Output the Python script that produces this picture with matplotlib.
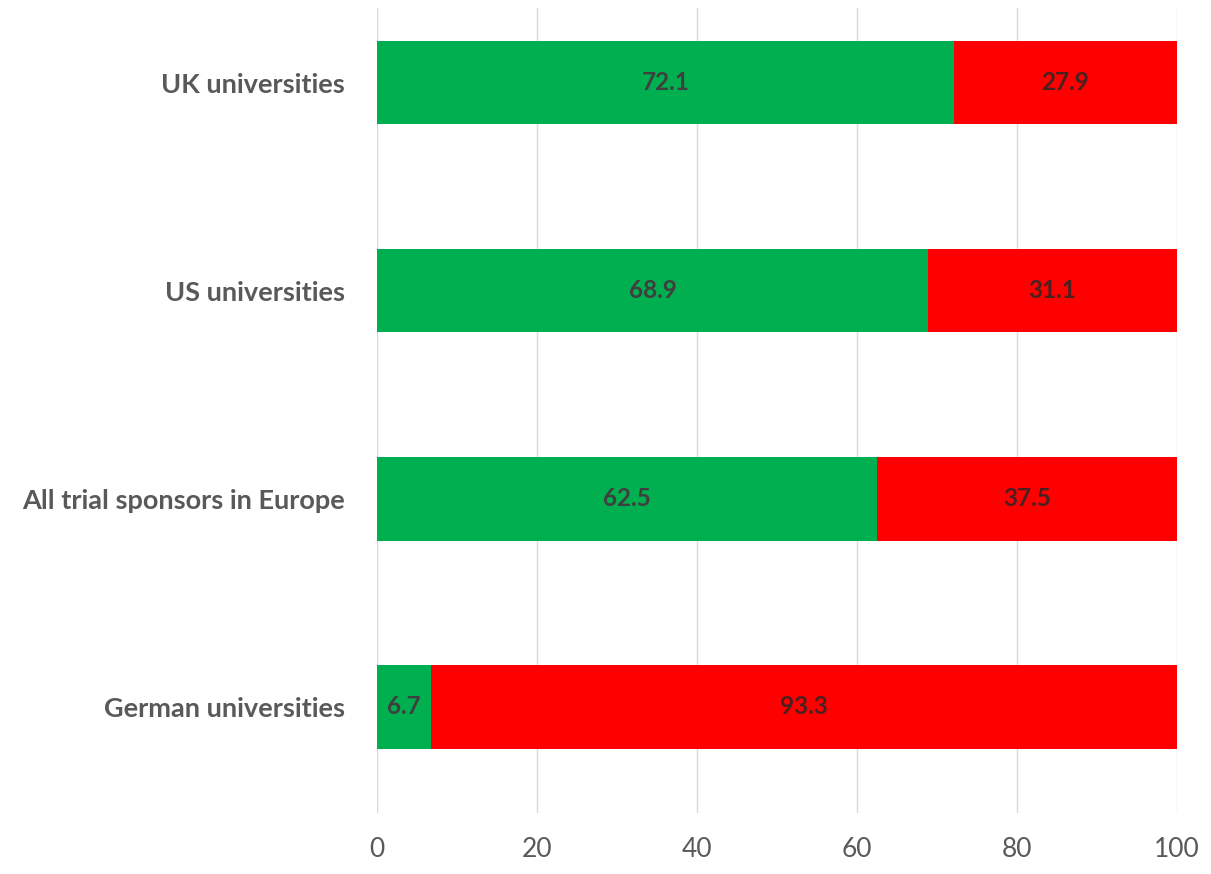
import numpy as np
import matplotlib.pyplot as plt

categories = ["German universities", "All trial sponsors in Europe", "US universities", "UK universities"]
reported = [6.7, 62.5, 68.9, 72.1]
not_reported = [93.3, 37.5, 31.1, 27.9]
xticks = [0, 20, 40, 60, 80, 100]

plt.rcParams['font.family'] = ['Lato', 'DejaVu Sans']

fig = plt.figure(figsize=(12.11, 8.74), dpi=100)
ax = fig.add_axes([377/1211, 1 - 813/874, 800/1211, 805/874])

y = np.arange(len(categories))
h = 0.40
ax.barh(y, reported, height=h, color="#00B050")
ax.barh(y, not_reported, left=reported, height=h, color="#FF0000")

# value labels in the middle of each segment
for i in range(len(categories)):
    ax.text(reported[i] / 2, y[i], "%.1f" % reported[i], ha="center", va="center",
            fontsize=17.5, fontweight="bold", color="#3F3F3F")
    ax.text(reported[i] + not_reported[i] / 2, y[i], "%.1f" % not_reported[i], ha="center",
            va="center", fontsize=17.5, fontweight="bold", color="#4A2020")

ax.set_xlim(0, 100)
ax.set_ylim(-0.51, 3.36)
ax.set_xticks(xticks)
ax.set_yticks(y)
ax.set_yticklabels(categories, fontsize=19.5, fontweight="bold", color="#595959")
ax.tick_params(axis="x", labelsize=19, labelcolor="#595959", length=0, pad=17)
ax.tick_params(axis="y", length=0, pad=23)
ax.grid(axis="x", color="#D9D9D9", linewidth=1)
ax.set_axisbelow(True)
for s in ax.spines.values():
    s.set_visible(False)

fig.savefig("out.png", dpi=100)
